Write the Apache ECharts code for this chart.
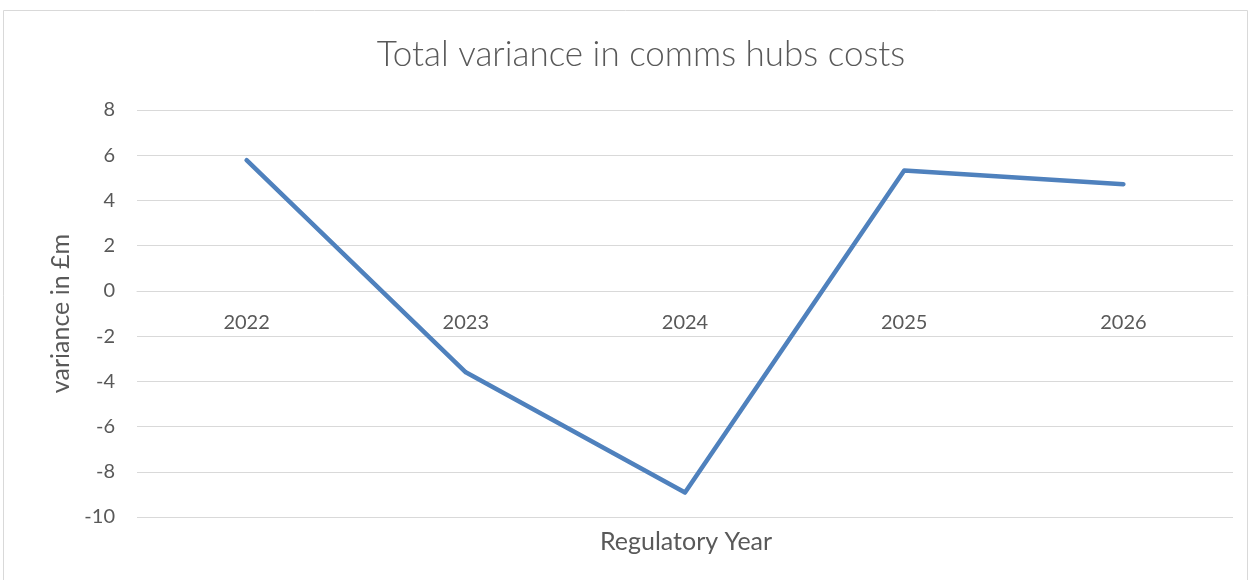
<!DOCTYPE html>
<html>
<head>
<meta charset="utf-8">
<script src="https://cdn.jsdelivr.net/npm/echarts@6/dist/echarts.min.js"></script>
<style>html,body{margin:0;padding:0;background:#fff;}#c{width:1250px;height:580px;}</style>
</head>
<body>
<div id="c"></div>
<script>
const categories = ['2022', '2023', '2024', '2025', '2026'];
const variance = [5.78, -3.6, -8.92, 5.32, 4.72];
const yMin = -10, yMax = 8, yStep = 2;

const gridTop = 110, gridBottom = 63, H = 580;
const plotH = H - gridTop - gridBottom;
const zeroOffset = -((0 - yMin) / (yMax - yMin)) * plotH;

const chart = echarts.init(document.getElementById('c'));
chart.setOption({
  animation: false,
  backgroundColor: '#ffffff',
  title: [
    { text: 'Total variance in comms hubs costs', left: 636, textAlign: 'center', top: 32,
      textStyle: { fontFamily: 'Lato', fontWeight: 300, fontSize: 35, color: '#595959' } },
    { text: 'Regulatory Year', left: 681, textAlign: 'center', top: 524,
      textStyle: { fontFamily: 'Lato', fontWeight: 'normal', fontSize: 25, color: '#595959' } }
  ],
  graphic: [{ type: 'rect', shape: { x: 3.5, y: 10.5, width: 1244, height: 580 },
    style: { fill: 'none', stroke: '#d9d9d9', lineWidth: 1 }, silent: true }],
  grid: { left: 137, right: 17, top: gridTop, bottom: gridBottom },
  xAxis: {
    type: 'category', data: categories, boundaryGap: true,
    offset: zeroOffset,
    axisLine: { show: true, onZero: false, lineStyle: { color: '#d9d9d9', width: 1 } },
    axisTick: { show: false },
    axisLabel: { margin: 22, fontFamily: 'Lato', fontSize: 20, color: '#595959' },
    splitLine: { show: false }
  },
  yAxis: {
    type: 'value', min: yMin, max: yMax, interval: yStep,
    name: 'variance in £m', nameLocation: 'middle', nameRotate: 90, nameGap: 64,
    nameTextStyle: { fontFamily: 'Lato', fontSize: 25, color: '#595959' },
    axisLine: { show: false }, axisTick: { show: false },
    axisLabel: { margin: 22, fontFamily: 'Lato', fontSize: 20, color: '#595959' },
    splitLine: { lineStyle: { color: '#d9d9d9', width: 1 } }
  },
  series: [{
    type: 'line', data: variance, symbol: 'none',
    lineStyle: { color: '#4f81bd', width: 4.5, cap: 'round', join: 'round' }
  }]
});
</script>
</body>
</html>
